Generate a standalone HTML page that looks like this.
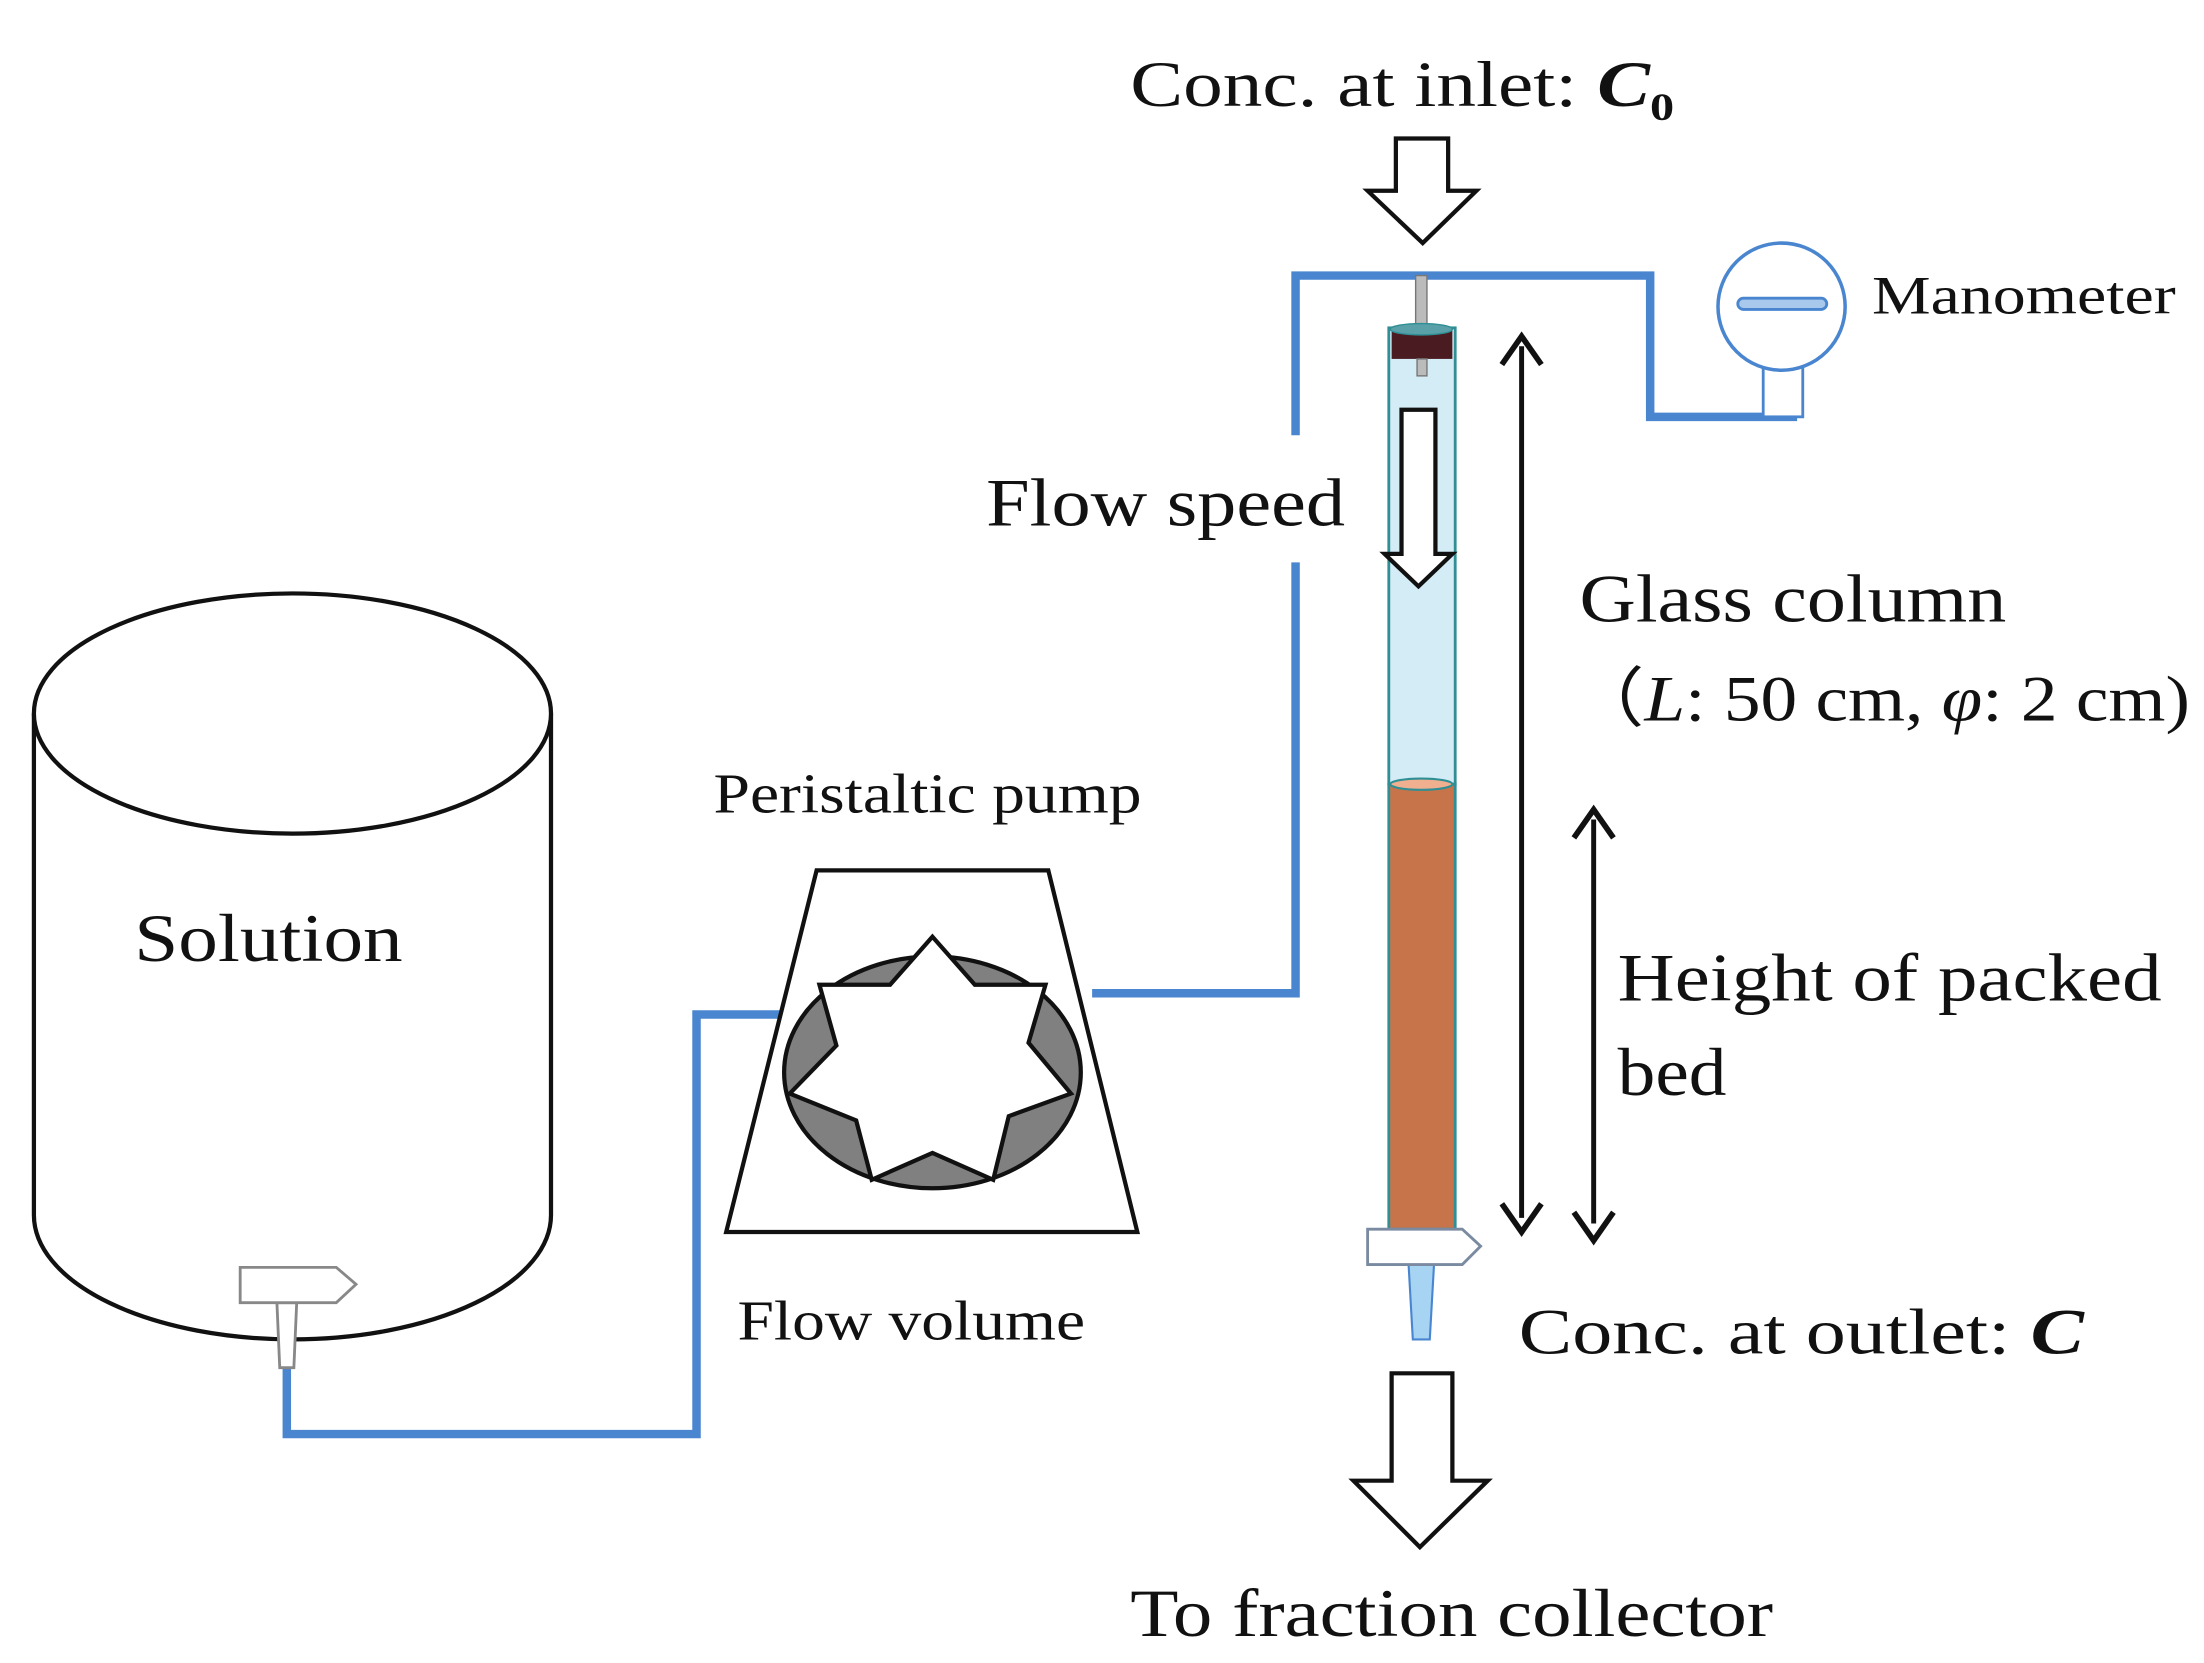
<!DOCTYPE html>
<html><head><meta charset="utf-8"><style>
html,body{margin:0;padding:0;background:#fff;}
svg{display:block;}
text{font-family:"Liberation Serif",serif;fill:#111;}
</style></head><body>
<svg width="2204" height="1663" viewBox="0 0 1560 1177" xmlns="http://www.w3.org/2000/svg">
<rect width="1560" height="1177" fill="#fff"/>
<!-- Tank -->
<path d="M24,505 L24,860 A183,88 0 0 0 390,860 L390,505" fill="#fff" stroke="#111" stroke-width="3"/>
<ellipse cx="207" cy="505" rx="183" ry="85" fill="#fff" stroke="#111" stroke-width="3"/>
<text x="95" y="680" font-size="48" textLength="190" lengthAdjust="spacingAndGlyphs">Solution</text>
<!-- pipe from tank -->
<polyline points="203,965 203,1015 493,1015 493,718 555,718" fill="none" stroke="#4a86d0" stroke-width="6"/>
<!-- tap -->
<path d="M196,922 L210,922 L208,968 L198,968 Z" fill="#fff" stroke="#888" stroke-width="2"/>
<path d="M170,897 L238,897 L252,909 L238,922 L170,922 Z" fill="#fff" stroke="#888" stroke-width="2"/>
<!-- Pump -->
<text x="505" y="575" font-size="40" textLength="303" lengthAdjust="spacingAndGlyphs">Peristaltic pump</text>
<polygon points="578,616 742,616 805,872 514,872" fill="#fff" stroke="#111" stroke-width="3"/>
<ellipse cx="660" cy="759" rx="105" ry="82" fill="#808080" stroke="#111" stroke-width="3"/>
<polygon points="660,663 690,697 740,697 728,738 758,774 714,790 703,835 660,816 617,835 606,793 559,774 592,740 580,697 630,697" fill="#fff" stroke="#111" stroke-width="3" stroke-linejoin="miter"/>
<text x="522" y="948" font-size="40" textLength="246" lengthAdjust="spacingAndGlyphs">Flow volume</text>
<!-- pipe from pump to column -->
<polyline points="773,703 917,703 917,398" fill="none" stroke="#4a86d0" stroke-width="6"/>
<polyline points="917,308 917,195 1168,195 1168,295 1272,295" fill="none" stroke="#4a86d0" stroke-width="6"/>
<!-- Manometer -->
<rect x="1248" y="258" width="28" height="37" fill="#fff" stroke="#4a86d0" stroke-width="2"/>
<circle cx="1261" cy="217" r="45" fill="#fff" stroke="#4a86d0" stroke-width="2.5"/>
<rect x="1230" y="211" width="63" height="8" rx="4" fill="#a8c8ec" stroke="#4a86d0" stroke-width="2"/>
<text x="1325" y="222" font-size="38" textLength="215" lengthAdjust="spacingAndGlyphs">Manometer</text>
<!-- inlet text & arrow -->
<text x="800" y="75" font-size="46" textLength="385" lengthAdjust="spacingAndGlyphs">Conc. at inlet: <tspan font-weight="bold" font-style="italic">C</tspan><tspan font-size="28" font-weight="bold" dy="10">0</tspan></text>
<polygon points="988,98 1025,98 1025,135 1045,135 1007,172 968,135 988,135" fill="#fff" stroke="#111" stroke-width="3"/>
<!-- Column -->
<rect x="1002" y="195" width="8" height="35" fill="#bbb" stroke="#777" stroke-width="1"/>
<rect x="983" y="232" width="47" height="323" fill="#d4ecf6" stroke="#2f8f95" stroke-width="2"/>
<rect x="983" y="555" width="47" height="315" fill="#c8744a" stroke="#2f8f95" stroke-width="2"/>
<ellipse cx="1006" cy="555" rx="22" ry="4" fill="#f0b090" stroke="#2f8f95" stroke-width="1.5"/>
<rect x="985" y="234" width="43" height="20" fill="#4a1c22"/>
<ellipse cx="1006" cy="233" rx="22" ry="4" fill="#5aa0a8" stroke="#2f8f95" stroke-width="1"/>
<rect x="1003" y="254" width="7" height="12" fill="#bbb" stroke="#777" stroke-width="1"/>
<polygon points="992,290 1016,290 1016,392 1028,392 1004,415 980,392 992,392" fill="#fff" stroke="#111" stroke-width="3"/>
<text x="698" y="372" font-size="48" textLength="254" lengthAdjust="spacingAndGlyphs">Flow speed</text>
<!-- bottom valve -->
<path d="M997,895 L1015,895 L1012,948 L1000,948 Z" fill="#a8d4f4" stroke="#4a86d0" stroke-width="1.5"/>
<path d="M968,870 L1035,870 L1048,882 L1035,895 L968,895 Z" fill="#fff" stroke="#7a8aa0" stroke-width="2"/>
<!-- double arrows -->
<line x1="1077" y1="245" x2="1077" y2="862" stroke="#111" stroke-width="3.5"/>
<polyline points="1063,258 1077,238 1091,258" fill="none" stroke="#111" stroke-width="4"/>
<polyline points="1063,852 1077,872 1091,852" fill="none" stroke="#111" stroke-width="4"/>
<line x1="1128" y1="580" x2="1128" y2="866" stroke="#111" stroke-width="3.5"/>
<polyline points="1114,593 1128,573 1142,593" fill="none" stroke="#111" stroke-width="4"/>
<polyline points="1114,858 1128,878 1142,858" fill="none" stroke="#111" stroke-width="4"/>
<text x="1118" y="440" font-size="48" textLength="302" lengthAdjust="spacingAndGlyphs">Glass column</text>
<text x="1112" y="510" font-size="46" textLength="438" lengthAdjust="spacingAndGlyphs">（<tspan font-style="italic">L</tspan>: 50 cm, <tspan font-style="italic">φ</tspan>: 2 cm)</text>
<text x="1145" y="708" font-size="48" textLength="385" lengthAdjust="spacingAndGlyphs">Height of packed</text>
<text x="1145" y="775" font-size="48" textLength="77" lengthAdjust="spacingAndGlyphs">bed</text>
<text x="1075" y="958" font-size="46" textLength="400" lengthAdjust="spacingAndGlyphs">Conc. at outlet: <tspan font-weight="bold" font-style="italic">C</tspan></text>
<!-- outlet arrow -->
<polygon points="985,972 1028,972 1028,1048 1053,1048 1005,1095 958,1048 985,1048" fill="#fff" stroke="#111" stroke-width="3"/>
<text x="800" y="1158" font-size="48" textLength="455" lengthAdjust="spacingAndGlyphs">To fraction collector</text>
</svg>
</body></html>
